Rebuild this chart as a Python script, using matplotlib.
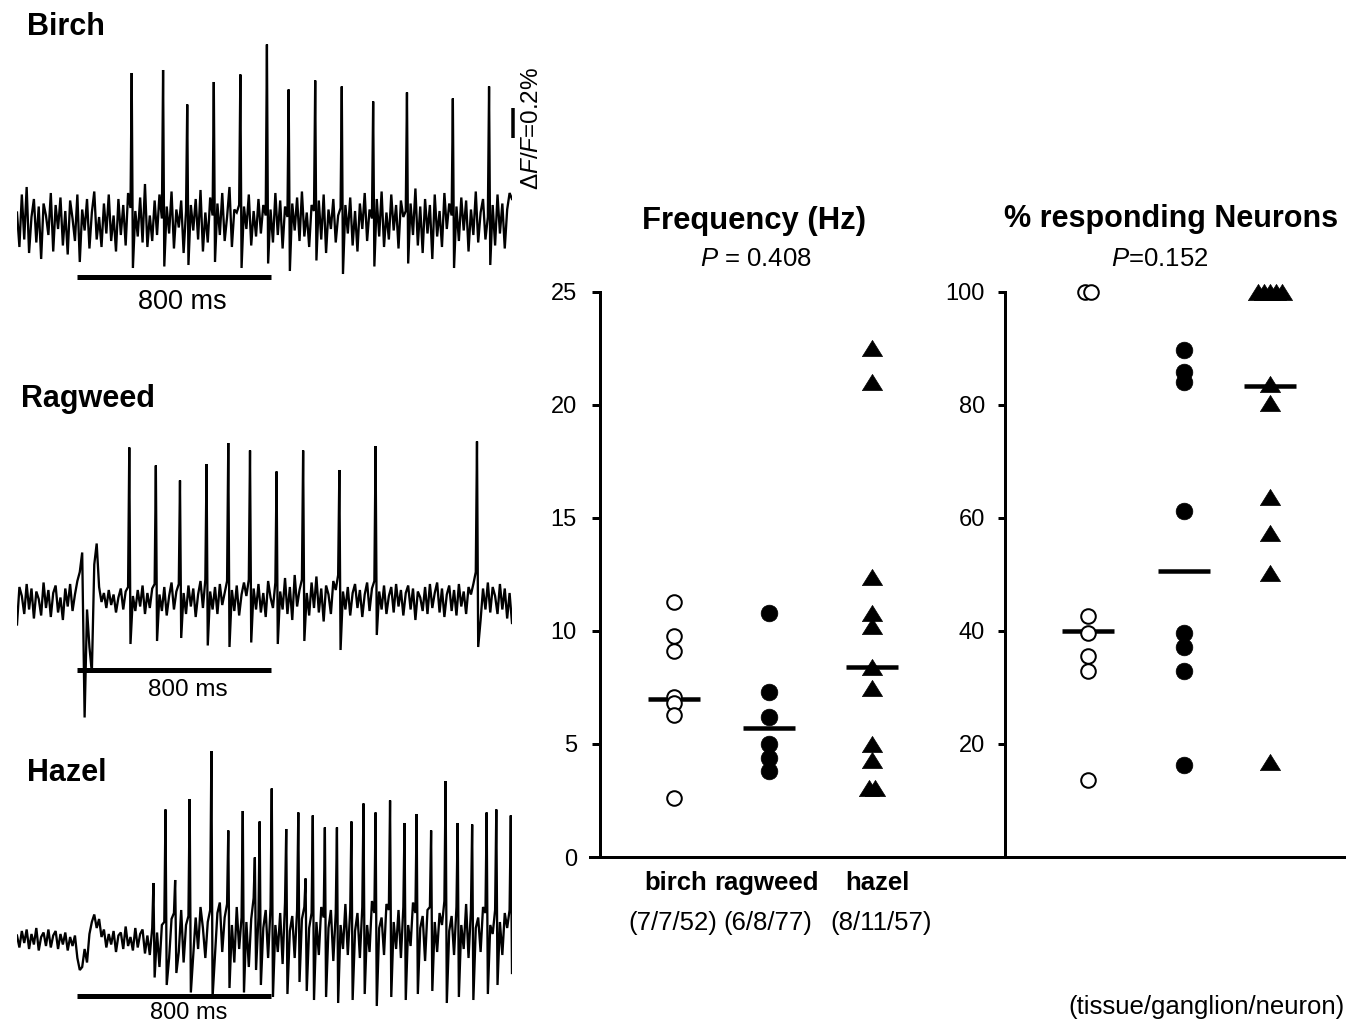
import numpy as np
import matplotlib
matplotlib.use("Agg")
import matplotlib.pyplot as plt

plt.rcParams['font.family'] = ['Liberation Sans', 'DejaVu Sans']
plt.rcParams['mathtext.fontset'] = 'custom'
plt.rcParams['mathtext.rm'] = 'Liberation Sans'
plt.rcParams['mathtext.it'] = 'Liberation Sans:italic'
plt.rcParams['mathtext.bf'] = 'Liberation Sans:bold'

# ---------------------------------------------------------------- data
categories = ["birch", "ragweed", "hazel"]
counts = ["(7/7/52)", "(6/8/77)", "(8/11/57)"]

freq_birch = [11.3, 9.8, 9.1, 7.1, 6.8, 6.3, 2.6]
freq_ragweed = [10.8, 7.3, 6.2, 5.0, 4.4, 3.8]
freq_hazel = [22.5, 21.0, 12.4, 10.8, 10.2, 8.4, 7.5, 5.0, 4.3, 3.05, 3.05]
freq_median = [7.0, 5.7, 8.4]
freq_ticks = [0, 5, 10, 15, 20, 25]

pct_birch = [100, 100, 42.6, 39.7, 35.5, 33.0, 13.6]
pct_ragweed = [89.7, 85.8, 84.0, 61.2, 39.7, 37.2, 33.0, 16.3]
pct_hazel = [100, 100, 100, 100, 100, 83.7, 80.3, 63.8, 57.4, 50.3, 16.8]
pct_median = [40.0, 50.7, 83.3]
pct_ticks = [20, 40, 60, 80, 100]

freq_p = "$P$ = 0.408"
pct_p = "$P$=0.152"

# optical traces: baseline samples every 10 ms from -250 ms (units of 0.01 % dF/F)
trace_t0_ms = -250
trace_dt_ms = 10
birch_noise = [
    7, -16, 19, -11, 24, -20, 4, 16, -13, 11, -24, 13, 5, -8, 20, -19, 12, -4, 17, -15,
    8, -21, 15, 3, -12, 19, -26, 9, -5, 16, -17, 7, 21, -11, 4, -16, 13, -7, 19, -12,
    5, -19, 16, -8, 12, -15, 20, 10, -30, 8, -9, 17, -13, 26, -16, 5, -12, 15, -8, 19,
    3, -29, 11, -7, 21, -17, 9, -3, 15, -20, 8, -28, 12, -5, 16, -11, 22, -19, 7, -13,
    17, 5, -26, 13, -8, 20, -12, 4, 24, -16, 9, 7, 12, -30, 11, -4, 19, -15, 8, -9,
    16, -7, 12, 5, -27, 9, -13, 20, -8, 15, -17, 11, 4, -32, 13, -5, 17, -12, 21, -9,
    7, -16, 12, 8, -25, 15, -11, 19, -20, 9, -4, 16, -13, 5, 10, -34, 12, -7, 17, -15,
    8, -19, 13, -4, 20, -12, 9, 3, -29, 16, -9, 21, -16, 7, -11, 19, -5, 12, -17, 15,
    4, 8, -27, 13, -8, 23, -15, 11, -20, 16, -7, 12, -24, 19, -9, 8, -16, 20, -4, 13,
    5, -30, 11, -12, 17, -5, 15, -19, 9, -8, 21, -13, 7, 16, -11, 4, -28, 12, -15, 19,
    -7, 13, -17, 9, 20, 16]
birch_spike_ms = [225, 355, 455, 565, 675, 785, 875, 985, 1095, 1225, 1365, 1555, 1705]
birch_spike_pct = [1.00, 1.02, 0.79, 0.94, 0.99, 1.19, 0.89, 0.95, 0.91, 0.81, 0.87, 0.83, 0.91]

ragweed_noise = [
    -15, 10, 4, -8, 12, -5, 9, -11, 7, 2, -9, 13, -4, 8, -10, 6, 11, -7, 3, -12,
    9, -3, 12, -6, 5, 14, 20, 33, -77, -5, -30, -47, 25, 39, 10, 0, 6, -4, 8, -2,
    5, -7, 3, 9, -5, 7, 10, -28, 4, -6, 8, -3, 11, -8, 6, -4, 9, 12, -26, 5,
    -6, 10, -9, 4, 13, -5, 7, 12, -24, 6, -8, 11, -3, 9, -10, 5, 14, -4, 15, -29,
    7, -5, 10, -8, 12, -2, 6, 14, -30, 8, -6, 11, -9, 5, 13, 4, 15, -27, 9, -5,
    12, -7, 6, -10, 14, 3, -4, 13, -28, 7, -5, 16, -8, 10, -12, 18, -3, 8, 15, -26,
    6, -9, 13, -4, 17, -7, 9, -13, 11, 5, -8, 14, 8, 18, -32, 7, -5, 10, -9, 6,
    12, -4, 8, -10, 5, 13, -6, 9, 14, -22, 7, -5, 11, -8, 4, 10, -7, 12, -3, 8,
    -9, 6, 11, -5, 9, -12, 7, 3, -6, 10, -8, 12, -4, 6, 13, -7, 9, -10, 5, 11,
    -6, 8, -9, 12, -3, 7, -8, 10, 5, 12, 20, -30, -12, 9, -5, 13, -7, 10, 4, -8,
    12, -5, 9, -11, 6, -14]
ragweed_spike_ms = [215, 325, 425, 535, 625, 715, 825, 935, 1085, 1235, 1655]
ragweed_spike_pct = [1.03, 0.91, 0.81, 0.92, 1.06, 1.01, 0.87, 1.01, 0.88, 1.04, 1.07]

hazel_noise = [
    3, -5, 6, -2, 7, -6, 4, -3, 8, -7, 2, 5, -4, 7, -5, 3, 6, -6, 4, -3,
    5, -7, 2, -4, 3, -12, -20, -18, -6, -15, 4, 12, 17, 8, 14, 2, 7, -5, 4, -3,
    6, -8, 3, 5, -6, 9, -4, 2, -7, 8, -5, 4, 7, -9, 3, -10, 8, -25, 5, -18,
    10, 12, -30, -12, 14, 18, -22, -8, 20, -15, 10, 16, -35, -10, 15, -6, 22, 8, -12, 12,
    20, -38, -10, 18, 25, -8, 15, 24, -32, 10, -15, 22, -6, 15, -35, 12, -18, 14, 28, -20,
    15, -30, 8, 20, -12, 22, -38, 10, -8, 18, -16, 25, -36, 6, 16, -12, 20, -28, 14, 22,
    -34, 8, 18, -40, 12, -10, 22, 15, -38, 8, 20, -14, 18, -42, 10, -6, 24, -10, 20, -40,
    6, 18, -12, 22, -36, 10, -8, 26, 18, -44, 8, 15, -10, 24, 20, -38, 12, -6, 20, -12,
    22, -40, 10, -4, 25, 18, -36, 8, 16, -14, 20, 22, -34, 12, -8, 18, 10, 26, -42, 6,
    16, -10, 22, -38, 10, -6, 24, -12, 20, -40, 8, 15, -8, 22, 18, -36, 10, 4, 20, -30,
    12, -10, 18, 8, 20, -22]
hazel_spike_ms = [315, 365, 405, 465, 555, 625, 685, 735, 755, 805, 865, 915, 945, 975,
                  1025, 1075, 1135, 1185, 1235, 1295, 1355, 1405, 1465, 1525, 1575, 1635,
                  1695, 1735, 1795]
hazel_spike_pct = [0.38, 0.87, 0.40, 0.94, 1.26, 0.73, 0.86, 0.55, 0.79, 1.01, 0.74, 0.85,
                   0.41, 0.83, 0.75, 0.75, 0.79, 0.91, 0.85, 0.93, 0.78, 0.84, 0.73, 1.06,
                   0.78, 0.77, 0.85, 0.87, 0.83]

trace_names = ["Birch", "Ragweed", "Hazel"]
stim_bar_ms = 800
scale_pct = 0.2

# ---------------------------------------------------------------- layout
W, H, DPI = 1346, 1025, 100
PT = 72.0 / DPI          # points per pixel
fig = plt.figure(figsize=(W / DPI, H / DPI), dpi=DPI)
fig.patch.set_facecolor("white")


def px_axes(l, t, r, b):
    return fig.add_axes([l / W, 1 - b / H, (r - l) / W, (b - t) / H])


def fig_text(x, y, s, **kw):
    fig.text(x / W, 1 - y / H, s, **kw)


def build_trace(noise, spike_t, spike_h):
    t = trace_t0_ms + trace_dt_ms * np.arange(len(noise))
    y = np.asarray(noise, float) / 100.0
    tt = np.concatenate([t, np.asarray(spike_t, float)])
    yy = np.concatenate([y, np.asarray(spike_h, float)])
    order = np.argsort(tt, kind="stable")
    return tt[order], yy[order]


TR_L, TR_R = 17, 512
TR_XLIM = (-250, 1800)
PX_PER_PCT = 150.0


def ms_at(px):
    return TR_XLIM[0] + (px - TR_L) / (TR_R - TR_L) * (TR_XLIM[1] - TR_XLIM[0])


# name: (box top, box bottom, baseline px, stim-bar px, label centre px (x, y), title (x, baseline), label size)
trace_layout = {
    "Birch": (30, 330, 223, 277, (182, 302), (27, 35), 19.5),
    "Ragweed": (420, 760, 602, 670, (188, 690), (21, 407), 17.5),
    "Hazel": (740, 1025, 940, 996, (189, 1013), (27, 781), 17),
}
trace_data = {
    "Birch": (birch_noise, birch_spike_ms, birch_spike_pct),
    "Ragweed": (ragweed_noise, ragweed_spike_ms, ragweed_spike_pct),
    "Hazel": (hazel_noise, hazel_spike_ms, hazel_spike_pct),
}

for name in trace_names:
    top, bot, base, barpx, (lx, ly), (tx, tb), lsz = trace_layout[name]
    ax = px_axes(TR_L, top, TR_R, bot)
    ax.set_xlim(*TR_XLIM)
    ax.set_ylim((base - bot) / PX_PER_PCT, (base - top) / PX_PER_PCT)
    ax.axis("off")
    t, y = build_trace(*trace_data[name])
    ax.plot(t, y, color="black", lw=2.3 * PT, solid_joinstyle="miter")
    yb = (base - barpx) / PX_PER_PCT
    ax.plot([0, stim_bar_ms], [yb, yb], color="black", lw=5 * PT,
            solid_capstyle="butt", clip_on=False)
    ax.text(ms_at(lx), (base - ly) / PX_PER_PCT, "800 ms", ha="center", va="center",
            fontsize=lsz)
    fig_text(tx, tb, name, fontsize=22, fontweight="bold", ha="left", va="baseline")
    if name == "Birch":
        y0 = (base - 138) / PX_PER_PCT
        ax.plot([ms_at(513), ms_at(513)], [y0, y0 + scale_pct], color="black",
                lw=3.5 * PT, solid_capstyle="butt", clip_on=False)
        ax.text(ms_at(532), (base - 128) / PX_PER_PCT, r"$\Delta F/F$=0.2%",
                rotation=90, ha="center", va="center", fontsize=17.5)

# ---------------------------------------------------------------- scatter panels
AX_TOP, AX_BOT = 292, 857


def dodge(values, step):
    vals = np.asarray(values, float)
    off = np.zeros(len(vals))
    for v in np.unique(vals):
        idx = np.where(vals == v)[0]
        off[idx] = (np.arange(len(idx)) - (len(idx) - 1) / 2.0) * step
    return off


tri = [(-1, -0.8), (1, -0.8), (0, 0.8), (-1, -0.8)]
styles = [
    dict(marker="o", ms=10.5, mfc="white", mec="black", mew=2 * PT),
    dict(marker="o", ms=12.0, mfc="black", mec="black", mew=0.5),
    dict(marker=tri, ms=14.5, mfc="black", mec="black", mew=0.5),
]


def scatter_panel(box, spine_px, cat_px, ylim, ticks, groups, medians, tick_len, tick_pad):
    l, t, r, b = box
    unit = (cat_px[2] - cat_px[0]) / 2.0
    ax = px_axes(l, t, r, b)
    ax.set_xlim((l - cat_px[0]) / unit, (r - cat_px[0]) / unit)
    ax.set_ylim(*ylim)
    xs = [(p - cat_px[0]) / unit for p in cat_px]
    for x, m in zip(xs, medians):
        h = 26.0 / unit
        ax.plot([x - h, x + h], [m, m], color="black", lw=4.5 * PT,
                solid_capstyle="butt", zorder=2)
    for x, vals, st in zip(xs, groups, styles):
        off = dodge(vals, 6.0 / unit)
        ax.plot(x + off, vals, ls="none", clip_on=False, zorder=3, **st)
    for s in ("top", "right"):
        ax.spines[s].set_visible(False)
    ax.spines["left"].set_position(("data", (spine_px - cat_px[0]) / unit))
    ax.spines["left"].set_linewidth(3 * PT)
    ax.spines["bottom"].set_linewidth(3 * PT)
    ax.set_xticks([])
    ax.set_yticks(ticks)
    ax.set_yticklabels([str(v) for v in ticks])
    ax.tick_params(axis="y", direction="out", length=tick_len * PT, width=3 * PT,
                   pad=tick_pad * PT, labelsize=17)
    ax.patch.set_alpha(0)
    return ax


scatter_panel((590, AX_TOP, 1005, AX_BOT), 600, [674, 769, 872], (0, 25), freq_ticks,
              [freq_birch, freq_ragweed, freq_hazel], freq_median, 8, 15)
scatter_panel((1005, AX_TOP, 1345, AX_BOT), 1005, [1088, 1184, 1270], (0, 100), pct_ticks,
              [pct_birch, pct_ragweed, pct_hazel], pct_median, 7, 13)

# titles and labels
fig_text(754, 229, "Frequency (Hz)", fontsize=22.3, fontweight="bold", ha="center", va="baseline")
fig_text(756, 266, freq_p, fontsize=18.5, ha="center", va="baseline")
fig_text(1171, 227, "% responding Neurons", fontsize=22, fontweight="bold", ha="center", va="baseline")
fig_text(1160, 266, pct_p, fontsize=18.5, ha="center", va="baseline")

for cx, lab in zip([676, 767, 877], categories):
    fig_text(cx, 890, lab, fontsize=18.5, fontweight="bold", ha="center", va="baseline")
for cx, lab in zip([673, 768, 881], counts):
    fig_text(cx, 930, lab, fontsize=18.5, ha="center", va="baseline")
fig_text(1345, 1014, "(tissue/ganglion/neuron)", fontsize=18.5, ha="right", va="baseline")

fig.savefig("out.png", dpi=DPI, facecolor="white")
